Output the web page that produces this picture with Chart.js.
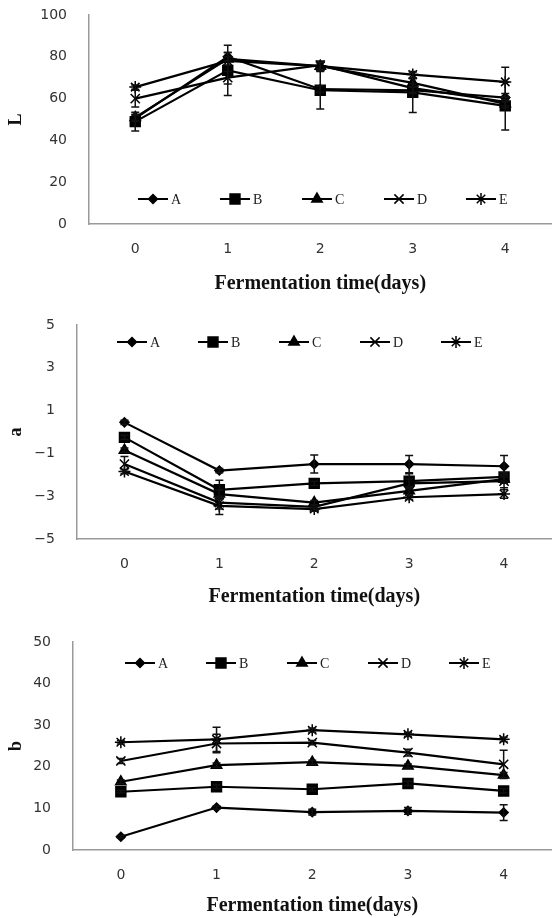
<!DOCTYPE html>
<html>
<head>
<meta charset="utf-8">
<script src="https://cdn.jsdelivr.net/npm/chart.js"></script>
<style>
  html, body { margin: 0; padding: 0; background: #fff; overflow: hidden; }
  #wrap { position: relative; width: 552px; height: 918px; overflow: hidden; background: #fff; }
  canvas { position: absolute; left: 0; }
</style>
</head>
<body>
<div id="wrap">
  <canvas id="chartL" width="560" height="300" style="top:0px"></canvas>
  <canvas id="chartA" width="560" height="310" style="top:300px"></canvas>
  <canvas id="chartB" width="560" height="308" style="top:610px"></canvas>
</div>
<script>
// categories + series names
const days = ['0', '1', '2', '3', '4'];
const samples = ['A', 'B', 'C', 'D', 'E'];

// L values (rows = A..E) and their error bars
const lMeans = [
  [50.5, 80, 64.5, 64, 60.5],
  [49, 73.5, 64, 63, 56.5],
  [51, 79, 75.5, 67.5, 57.5],
  [60, 70, 76, 65, 58.5],
  [65.5, 78, 75.5, 71.5, 68]
];
const lErrors = [
  [1.5, 2, 1.5, 1.5, 2],
  [4.5, 12, 9, 9.7, 11.5],
  [1.5, 3, 2, 2, 2],
  [4, 3, 2, 2, 2],
  [1, 2, 2, 1.5, 7]
];
const lTicks = [0, 20, 40, 60, 80, 100];

// a values
const aMeans = [
  [0.45, -1.8, -1.5, -1.5, -1.6],
  [-0.25, -2.7, -2.4, -2.3, -2.1],
  [-0.85, -2.9, -3.3, -2.75, -2.2],
  [-1.5, -3.3, -3.5, -2.4, -2.3],
  [-1.85, -3.45, -3.6, -3.05, -2.9]
];
const aErrors = [
  [0.1, 0.1, 0.42, 0.4, 0.5],
  [0.1, 0.45, 0.1, 0.35, 0.2],
  [0.1, 0.2, 0.1, 0.2, 0.2],
  [0.35, 0.3, 0.1, 0.2, 0.3],
  [0.1, 0.4, 0.1, 0.1, 0.2]
];
const aTicks = [-5, -3, -1, 1, 3, 5];

// b values
const bMeans = [
  [3.2, 10.2, 9.1, 9.4, 9.0],
  [14.0, 15.2, 14.6, 16.0, 14.2],
  [16.4, 20.4, 21.1, 20.2, 18.0],
  [21.4, 25.6, 25.8, 23.4, 20.6],
  [25.9, 26.6, 28.8, 27.8, 26.6]
];
const bErrors = [
  [0.3, 0.4, 0.7, 0.8, 1.9],
  [0.3, 0.5, 0.4, 0.5, 0.5],
  [0.4, 0.5, 0.5, 0.5, 0.6],
  [0.6, 2.2, 0.5, 0.8, 3.4],
  [0.4, 2.9, 0.5, 0.5, 0.5]
];
const bTicks = [0, 10, 20, 30, 40, 50];

const markerStyles = ['rectRot', 'rect', 'triangle', 'crossRot', 'star'];
const markerSizes = [4.5, 7, 6, 6.5, 6];

// vertical error bars with caps
const errorBars = {
  id: 'errorBars',
  afterDatasetsDraw(chart) {
    const ctx = chart.ctx;
    const y = chart.scales.y;
    ctx.save();
    ctx.strokeStyle = '#111';
    ctx.lineWidth = 1.5;
    chart.data.datasets.forEach((ds, i) => {
      if (!ds.errors) return;
      chart.getDatasetMeta(i).data.forEach((pt, j) => {
        const e = ds.errors[j];
        if (!e) return;
        const top = y.getPixelForValue(ds.data[j] + e);
        const bot = y.getPixelForValue(ds.data[j] - e);
        ctx.beginPath();
        ctx.moveTo(pt.x, top); ctx.lineTo(pt.x, bot);
        ctx.moveTo(pt.x - 4, top); ctx.lineTo(pt.x + 4, top);
        ctx.moveTo(pt.x - 4, bot); ctx.lineTo(pt.x + 4, bot);
        ctx.stroke();
      });
    });
    ctx.restore();
  }
};

// legend drawn inside the plot, one row
const innerLegend = {
  id: 'innerLegend',
  afterDraw(chart, args, opts) {
    const ctx = chart.ctx;
    ctx.save();
    chart.data.datasets.forEach((ds, i) => {
      const mx = opts.x + i * opts.step;
      const my = opts.y;
      ctx.strokeStyle = '#000';
      ctx.fillStyle = '#000';
      ctx.lineWidth = 2;
      ctx.beginPath();
      ctx.moveTo(mx - 15, my);
      ctx.lineTo(mx + 15, my);
      ctx.stroke();
      ctx.lineWidth = 1.5;
      Chart.helpers.drawPoint(ctx, {
        pointStyle: ds.pointStyle, radius: ds.pointRadius, borderWidth: 1.5, rotation: 0
      }, mx, my);
      ctx.fillStyle = '#222';
      ctx.font = '14px "Liberation Serif"';
      ctx.textAlign = 'left';
      ctx.textBaseline = 'middle';
      ctx.fillText(ds.label, mx + 18, my + 1);
    });
    ctx.restore();
  }
};

function makeChart(id, means, errors, ticks, yTitle, box) {
  const canvas = document.getElementById(id);
  const datasets = samples.map((name, i) => ({
    label: name,
    data: means[i],
    errors: errors[i],
    borderColor: '#000',
    backgroundColor: '#000',
    borderWidth: 2.2,
    pointStyle: markerStyles[i],
    pointRadius: markerSizes[i],
    pointBorderWidth: 1.5,
    pointBorderColor: '#000',
    pointBackgroundColor: '#000',
    tension: 0,
    fill: false
  }));

  return new Chart(canvas.getContext('2d'), {
    type: 'line',
    data: { labels: days, datasets: datasets },
    options: {
      responsive: false,
      animation: false,
      layout: { padding: { top: box.top, right: canvas.width - box.right, bottom: 0, left: 0 } },
      plugins: {
        legend: { display: false },
        tooltip: { enabled: false },
        innerLegend: box.legend
      },
      scales: {
        x: {
          offset: true,
          grid: { display: false, drawTicks: false },
          border: { display: true, color: '#9a9a9a', width: 1.5 },
          ticks: { padding: 17, color: '#333', font: { family: 'DejaVu Sans', size: 14 } },
          title: {
            display: true,
            text: 'Fermentation time(days)',
            color: '#111',
            font: { family: 'Liberation Serif', size: 20, weight: 'bold' },
            padding: { top: 0, bottom: box.titlePad }
          },
          afterFit: s => {
            s.height = canvas.height - box.bottom;
            s.paddingLeft = 0; s.paddingRight = 0;
          }
        },
        y: {
          min: ticks[0],
          max: ticks[ticks.length - 1],
          grid: { display: false, drawTicks: false },
          border: { display: true, color: '#9a9a9a', width: 1.5 },
          afterBuildTicks: s => { s.ticks = ticks.map(v => ({ value: v })); },
          ticks: {
            padding: 22,
            color: '#333',
            font: { family: 'DejaVu Sans', size: 14 },
            callback: v => String(v).replace('-', '\u2212')
          },
          title: {
            display: true,
            text: yTitle,
            color: '#111',
            font: { family: 'Liberation Serif', size: 18, weight: 'bold' },
            padding: { top: 6, bottom: 0 }
          },
          afterFit: s => {
            s.width = box.left;
            s.paddingTop = 0; s.paddingBottom = 0;
          }
        }
      }
    },
    plugins: [errorBars, innerLegend]
  });
}

makeChart('chartL', lMeans, lErrors, lTicks, 'L',
  { left: 89, top: 15, right: 556, bottom: 224, titlePad: 4, legend: { x: 153, step: 82, y: 199 } });
makeChart('chartA', aMeans, aErrors, aTicks, 'a',
  { left: 77, top: 25, right: 553, bottom: 239, titlePad: 1, legend: { x: 132, step: 81, y: 42 } });
makeChart('chartB', bMeans, bErrors, bTicks, 'b',
  { left: 73, top: 32, right: 555, bottom: 240, titlePad: 0, legend: { x: 140, step: 81, y: 53 } });
</script>
</body>
</html>
